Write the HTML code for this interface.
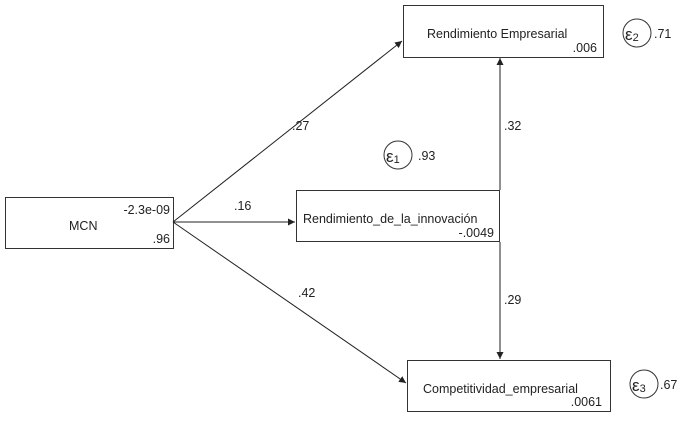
<!DOCTYPE html>
<html><head><style>body{margin:0;background:#fff}</style></head><body>
<svg width="690" height="424" xmlns="http://www.w3.org/2000/svg" font-family="Liberation Sans, Arial, sans-serif" font-size="12.5" fill="#222">
<defs><marker id="a" markerWidth="7" markerHeight="7" refX="7" refY="3.5" orient="auto" markerUnits="userSpaceOnUse"><path d="M0,0 L7,3.5 L0,7 z" fill="#222"/></marker></defs>
<g stroke="#333" stroke-width="1" fill="#fff">
<rect x="5.5" y="197.5" width="168" height="51"/>
<rect x="296.5" y="190.5" width="203" height="51"/>
<rect x="403.5" y="5.5" width="200" height="52"/>
<rect x="407.5" y="360.5" width="203" height="51"/>
<circle cx="398" cy="155" r="14"/>
<circle cx="637" cy="33" r="14"/>
<circle cx="644" cy="384" r="14"/>
</g>
<g stroke="#222" stroke-width="1">
<line x1="173" y1="222" x2="402" y2="41" marker-end="url(#a)"/>
<line x1="173" y1="222" x2="295" y2="222" marker-end="url(#a)"/>
<line x1="173" y1="222" x2="406" y2="383" marker-end="url(#a)"/>
<line x1="500" y1="190" x2="500" y2="58" marker-end="url(#a)"/>
<line x1="500" y1="242" x2="500" y2="359" marker-end="url(#a)"/>
</g>
<text x="170" y="214" text-anchor="end">-2.3e-09</text>
<text x="69" y="230">MCN</text>
<text x="170" y="243" text-anchor="end">.96</text>
<text x="303" y="223">Rendimiento_de_la_innovación</text>
<text x="494" y="237" text-anchor="end">-.0049</text>
<text x="427" y="38">Rendimiento Empresarial</text>
<text x="597" y="52" text-anchor="end">.006</text>
<text x="423" y="393">Competitividad_empresarial</text>
<text x="602" y="406" text-anchor="end">.0061</text>
<text x="292" y="130">.27</text>
<text x="234" y="210">.16</text>
<text x="298" y="297">.42</text>
<text x="504" y="130">.32</text>
<text x="504" y="304">.29</text>
<text x="386" y="162" font-size="17">ε<tspan font-size="11" dy="1">1</tspan></text>
<text x="418" y="160">.93</text>
<text x="625" y="40" font-size="17">ε<tspan font-size="11" dy="1">2</tspan></text>
<text x="654" y="38">.71</text>
<text x="632" y="391" font-size="17">ε<tspan font-size="11" dy="1">3</tspan></text>
<text x="660" y="389">.67</text>
</svg>
</body></html>
